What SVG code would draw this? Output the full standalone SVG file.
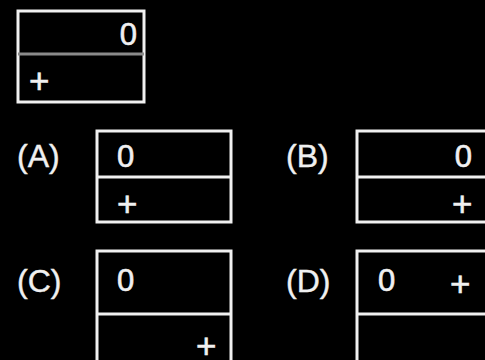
<svg xmlns="http://www.w3.org/2000/svg" width="485" height="360" viewBox="0 0 485 360">
<style>
.box{fill:none;stroke:#f0f0f0;stroke-width:3}
.div{stroke:#f0f0f0;stroke-width:3}
.t{font-family:"Liberation Sans",Arial,sans-serif;font-size:31px;fill:#f0f0f0;stroke:#f0f0f0;stroke-width:0.6}
.p{font-family:"Liberation Sans",Arial,sans-serif;font-size:35px;fill:#f0f0f0;stroke:#f0f0f0;stroke-width:0.6}
.lbl{font-family:"Liberation Sans",Arial,sans-serif;font-size:32px;fill:#f0f0f0;stroke:#f0f0f0;stroke-width:0.4}
</style>
<rect width="485" height="360" fill="#000"/>
<g id="top">
<rect class="box" x="18" y="11" width="126" height="91"/>
<line x1="18" y1="54" x2="144" y2="54" stroke="#8a8a8a" stroke-width="3"/>
<text class="t" x="137" y="45" text-anchor="end">0</text>
<text class="p" x="29" y="93">+</text>
</g>
<g id="A">
<text class="lbl" x="17" y="167">(A)</text>
<rect class="box" x="97" y="131" width="134" height="91"/>
<line class="div" x1="97" y1="177" x2="231" y2="177"/>
<text class="t" x="117" y="167">0</text>
<text class="p" x="117" y="216">+</text>
</g>
<g id="B">
<text class="lbl" x="286" y="167">(B)</text>
<rect class="box" x="357" y="131" width="140" height="91"/>
<line class="div" x1="357" y1="177" x2="497" y2="177"/>
<text class="t" x="472" y="167" text-anchor="end">0</text>
<text class="p" x="452" y="216">+</text>
</g>
<g id="C">
<text class="lbl" x="17" y="292">(C)</text>
<rect class="box" x="97" y="251" width="134" height="120"/>
<line class="div" x1="97" y1="314" x2="231" y2="314"/>
<text class="t" x="117" y="291">0</text>
<text class="p" x="196" y="358">+</text>
</g>
<g id="D">
<text class="lbl" x="286" y="292">(D)</text>
<rect class="box" x="357" y="251" width="140" height="120"/>
<line class="div" x1="357" y1="314" x2="497" y2="314"/>
<text class="t" x="378" y="291">0</text>
<text class="p" x="450" y="296">+</text>
</g>
</svg>
